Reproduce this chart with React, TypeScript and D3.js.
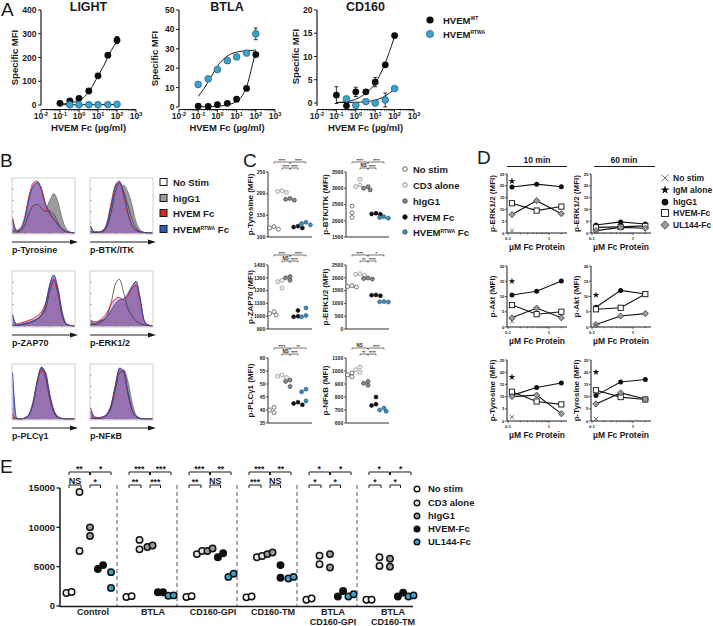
import React from 'react';
import * as d3 from 'd3';

const FF = "'Liberation Sans', Arial, Helvetica, sans-serif";
const INK = '#1a1a1a';
const CYAN = '#3aa3cf';

// ================= Panel A data =================
const aDoses = [0.1, 0.33, 1, 3.3, 10, 33, 100];
const aDecades = [-2, -1, 0, 1, 2, 3];
const lightTicks = [0, 100, 200, 300, 400];
const btlaTicks = [0, 10, 20, 30, 40, 50];
const cd160Ticks = [0, 5, 10, 15, 20];

const lightWT = [7, 17, 28, 59, 123, 210, 273];
const lightWTErr = [0, 0, 0, 0, 0, 0, 15];
const lightRTWA = [null, 1, 1, 1, 1, 2, 3];
const lightRTWAErr = [0, 0, 0, 0, 0, 0, 0];
const lightFitWTX = [0.1, 0.3, 1, 2, 5, 10, 20, 50, 100];
const lightFitWT = [4, 8, 20, 36, 78, 122, 165, 230, 268];
const lightFitRTX = [0.1, 1, 100];
const lightFitRT = [1, 1.2, 2];

const btlaWT = [0.5, 0.3, 1.2, 1.9, 4, 9.6, 27];
const btlaWTErr = [0, 0, 0, 0, 0, 0, 0];
const btlaRTWA = [11.6, 14.5, 19.3, 23.9, 25.8, 27.8, 37.7];
const btlaRTWAErr = [0, 0, 0, 0, 0, 0, 3];
const btlaFitWTX = [0.1, 1, 5, 10, 20, 40, 60, 100];
const btlaFitWT = [0.1, 0.4, 1.5, 3, 6, 13, 20, 29];
const btlaFitRTX = [0.1, 0.2, 0.5, 1, 2, 5, 10, 30, 100];
const btlaFitRT = [5.5, 9.5, 16, 21, 24.5, 27.3, 28.3, 29, 29.3];

const cd160WT = [1.7, -0.6, 2.4, 2.4, 4.5, 8.2, 14.5];
const cd160WTErr = [1.8, 0, 1, 0, 1, 0.4, 0];
const cd160RTWA = [null, 0.9, -0.5, 0.3, 0, 0.65, 3.1];
const cd160RTWAErr = [0, 0, 0, 0, 0, 1.5, 0];
const cd160FitWTX = [0.1, 0.33, 1, 3, 10, 30, 100];
const cd160FitWT = [0.1, 0.3, 0.8, 2, 4.2, 8.2, 14.3];
const cd160FitRTX = [0.1, 1, 3, 10, 30, 100];
const cd160FitRT = [0.1, 0.15, 0.25, 0.6, 1.4, 3];

// ================= Panel B data (histogram heights, [noStim, hIgG1, HVEM Fc, RTWA Fc]) =================
const bLegend = ['No Stim', 'hIgG1', 'HVEM Fc', 'HVEM RTWA Fc'];
const histTyrosine = [
  [0.06, 0.02, 0.05, 0.15, 0.38, 0.52, 0.55, 0.48, 0.42, 0.42, 0.36, 0.2, 0.07, 0.02, 0.01, 0],
  [0.05, 0.02, 0.05, 0.14, 0.33, 0.46, 0.5, 0.46, 0.47, 0.62, 0.76, 0.6, 0.28, 0.08, 0.02, 0],
  [0.3, 0.05, 0.1, 0.32, 0.72, 0.96, 1.0, 0.82, 0.52, 0.36, 0.26, 0.15, 0.07, 0.02, 0.01, 0],
  [0.25, 0.04, 0.08, 0.27, 0.66, 0.9, 0.97, 0.86, 0.56, 0.4, 0.28, 0.17, 0.08, 0.03, 0.01, 0],
];
const histBTK = [
  [0.03, 0.01, 0.01, 0.03, 0.12, 0.4, 0.78, 0.95, 0.8, 0.55, 0.28, 0.1, 0.03, 0.01, 0, 0],
  [0.03, 0.01, 0.01, 0.03, 0.1, 0.33, 0.68, 0.9, 0.92, 0.8, 0.55, 0.22, 0.06, 0.01, 0, 0],
  [0.12, 0.02, 0.02, 0.05, 0.2, 0.58, 0.92, 1.0, 0.72, 0.38, 0.14, 0.05, 0.02, 0.01, 0, 0],
  [0.14, 0.02, 0.02, 0.05, 0.18, 0.52, 0.88, 0.98, 0.78, 0.42, 0.16, 0.06, 0.02, 0.01, 0, 0],
];
const histZAP70 = [
  [0.03, 0.01, 0.02, 0.04, 0.06, 0.09, 0.13, 0.2, 0.33, 0.66, 0.88, 0.62, 0.2, 0.04, 0.01, 0],
  [0.03, 0.01, 0.02, 0.03, 0.05, 0.08, 0.12, 0.18, 0.3, 0.6, 0.86, 0.72, 0.3, 0.05, 0.01, 0],
  [0.18, 0.04, 0.06, 0.08, 0.11, 0.14, 0.2, 0.27, 0.44, 0.76, 0.9, 0.66, 0.22, 0.04, 0.01, 0],
  [0.22, 0.02, 0.03, 0.05, 0.07, 0.1, 0.14, 0.22, 0.4, 0.8, 0.98, 0.72, 0.24, 0.04, 0.01, 0],
];
const histERK = [
  [0.03, 0.03, 0.05, 0.1, 0.2, 0.45, 0.8, 0.9, 0.65, 0.35, 0.2, 0.1, 0.05, 0.02, 0.01, 0],
  [0.05, 0.04, 0.06, 0.1, 0.15, 0.25, 0.35, 0.42, 0.45, 0.55, 0.7, 0.78, 0.5, 0.1, 0.02, 0],
  [0.12, 0.08, 0.1, 0.16, 0.26, 0.42, 0.52, 0.55, 0.5, 0.56, 0.72, 0.78, 0.48, 0.1, 0.02, 0],
  [0.1, 0.05, 0.08, 0.12, 0.18, 0.3, 0.42, 0.5, 0.52, 0.62, 0.76, 0.86, 0.55, 0.1, 0.02, 0],
];
const histPLC = [
  [0.02, 0, 0, 0.02, 0.1, 0.35, 0.75, 0.98, 0.8, 0.4, 0.12, 0.03, 0.01, 0, 0, 0],
  [0.02, 0, 0, 0.02, 0.07, 0.28, 0.68, 0.96, 0.9, 0.5, 0.18, 0.05, 0.01, 0, 0, 0],
  [0.1, 0, 0, 0.02, 0.08, 0.3, 0.7, 0.93, 0.85, 0.45, 0.15, 0.04, 0.01, 0, 0, 0],
  [0.9, 0.02, 0, 0.02, 0.08, 0.3, 0.72, 1.0, 0.88, 0.45, 0.15, 0.04, 0.01, 0, 0, 0],
];
const histNFkB = [
  [0.02, 0.01, 0.01, 0.03, 0.08, 0.22, 0.55, 0.88, 0.92, 0.55, 0.2, 0.05, 0.01, 0, 0, 0],
  [0.02, 0.01, 0.01, 0.02, 0.06, 0.18, 0.45, 0.78, 0.95, 0.75, 0.35, 0.08, 0.02, 0, 0, 0],
  [0.22, 0.04, 0.03, 0.04, 0.1, 0.28, 0.65, 0.95, 0.9, 0.5, 0.18, 0.05, 0.01, 0, 0, 0],
  [0.15, 0.03, 0.02, 0.04, 0.1, 0.26, 0.62, 0.98, 0.92, 0.52, 0.18, 0.05, 0.01, 0, 0, 0],
];
const bMarkers = ['p-Tyrosine', 'p-BTK/ITK', 'p-ZAP70', 'p-ERK1/2', 'p-PLCγ1', 'p-NFκB'];

// ================= Panel C data =================
const cGroups = ['No stim', 'CD3 alone', 'hIgG1', 'HVEM Fc', 'HVEM RTWA Fc'];
const cTyrosine = [[118, 121, 124], [203, 205, 207], [185, 187, 189], [121, 123, 125], [128, 131, 134]];
const cBTK = [[2100, 2250, 2450], [3050, 3100, 3280], [2950, 3000, 3050], [2200, 2210, 2230], [2080, 2100, 2120]];
const cZAP70 = [[1010, 1020, 1035], [1220, 1270, 1280], [1280, 1300, 1310], [995, 1000, 1045], [995, 1005, 1065]];
const cERK = [[1640, 1660, 1690], [2100, 2130, 2160], [1950, 1970, 1990], [1300, 1320, 1330], [1050, 1060, 1070]];
const cPLC = [[39, 40, 41], [52.5, 53, 53.5], [49, 51, 51.5], [42, 42.5, 43], [43.5, 47, 48]];
const cNFkB = [[955, 970, 985], [990, 1010, 1030], [890, 905, 920], [735, 745, 800], [690, 700, 715]];
const cTicksTyr = [100, 150, 200, 250];
const cTicksBTK = [1500, 2000, 2500, 3000, 3500];
const cTicksZAP = [900, 1000, 1100, 1200, 1300, 1400];
const cTicksERK = [0, 500, 1000, 1500, 2000, 2500];
const cTicksPLC = [35, 40, 45, 50, 55, 60];
const cTicksNFkB = [600, 700, 800, 900, 1000, 1100];
const cSigTop = [['****', '****'], ['****', '****'], ['****', '****'], ['****', '*'], ['****', '**'], ['NS', '****']];
const cSigBot = [['****', '****'], ['NS', '****'], ['NS', '****'], ['**', '****'], ['NS', '****'], ['**', '****']];

// ================= Panel D data =================
const dDoses = [0.125, 0.5, 2];
const dLegend = ['No stim', 'IgM alone', 'hIgG1', 'HVEM-Fc', 'UL144-Fc'];
const erk10IgG1 = [19.5, 20.7, 19.6];
const erk10HVEM = [12.6, 9.5, 11.2];
const erk10UL144 = [7.8, 13.7, 8.2];
const erk60IgG1 = [3.4, 4.7, 3.8];
const erk60HVEM = [2.4, 2.6, 3.0];
const erk60UL144 = [1.0, 2.4, 2.0];
const akt10IgG1 = [10.5, 11.7, 15.1];
const akt10HVEM = [7.2, 4.2, 5.0];
const akt10UL144 = [3.0, 6.2, 3.0];
const akt60IgG1 = [6.5, 12.0, 10.8];
const akt60HVEM = [5.8, 6.3, 10.8];
const akt60UL144 = [0.8, 3.6, 4.4];
const tyr10IgG1 = [10.5, 13.7, 15.6];
const tyr10HVEM = [12.0, 8.0, 6.8];
const tyr10UL144 = [10.0, 10.6, 3.0];
const tyr60IgG1 = [10.5, 16.0, 17.0];
const tyr60HVEM = [12.6, 9.8, 8.8];
const tyr60UL144 = [7.0, 11.5, 9.0];
// order: erk10, erk60, akt10, akt60, tyr10, tyr60
const dNoStim = [1.0, 0.5, 1.8, 0.6, 1.6, 0.8];
const dIgM = [22, null, 15, 10.5, 18, 20];

// ================= Panel E data =================
const eCategories = [['Control'], ['BTLA'], ['CD160-GPI'], ['CD160-TM'], ['BTLA', 'CD160-GPI'], ['BTLA', 'CD160-TM']];
const eLegend = ['No stim', 'CD3 alone', 'hIgG1', 'HVEM-Fc', 'UL144-Fc'];
const eNoStim = [[1650, 1780], [1150, 1250], [1150, 1250], [1100, 1200], [800, 950], [800, 800]];
const eCD3 = [[14500, 7000], [8400, 7200], [6600, 7000], [6200, 6350], [6400, 5300], [6200, 5100]];
const eIgG1 = [[10000, 8900], [7500, 7700], [7000, 7300], [6600, 6800], [6600, 4900], [6000, 5000]];
const eHVEM = [[4700, 5200], [1750, 1750], [6200, 6700], [5200, 3600], [1200, 1900], [1200, 1700]];
const eUL144 = [[4300, 2300], [1300, 1350], [3700, 4100], [3500, 3700], [1200, 1500], [1200, 1350]];
const eTicks = [0, 5000, 10000, 15000];
const eSigTop = [['**', '*'], ['***', '***'], ['***', '**'], ['***', '**'], ['*', '*'], ['*', '*']];
const eSigBot = [['NS', '*'], ['**', '***'], ['**', 'NS'], ['***', 'NS'], ['*', '*'], ['*', '*']];

// ================= helpers =================
function Bracket({ x1, x2, y, label, fs, h = 2, sw = 0.8, lift = 1.5 }: any) {
  const isNS = label === 'NS';
  return (
    <g>
      <path d={`M${x1},${y + h}V${y}H${x2}V${y + h}`} fill="none" stroke={INK} strokeWidth={sw} />
      <text x={(x1 + x2) / 2} y={y - lift + (isNS ? 0 : fs * 0.2)} textAnchor="middle" fontSize={isNS ? fs : fs * 0.95} fontWeight="bold" fill={INK}>
        {label}
      </text>
    </g>
  );
}

function swarm(vals: number[], ys: any, cx: number, r: number, step: number) {
  const pts = vals.map((v) => ({ v, y: ys(v) })).sort((a, b) => a.y - b.y);
  const placed: any[] = [];
  for (const p of pts) {
    let done = false;
    for (const off of [0, -1, 1, -2, 2]) {
      const x = cx + off * step;
      if (placed.every((q) => Math.hypot(q.x - x, q.y - p.y) >= r * 1.8)) {
        placed.push({ x, y: p.y });
        done = true;
        break;
      }
    }
    if (!done) placed.push({ x: cx, y: p.y });
  }
  return placed;
}

function pairLayout(vals: number[], ys: any, cx: number, r: number) {
  const y1 = ys(vals[0]);
  const y2 = ys(vals[1]);
  if (Math.abs(y1 - y2) < r * 2) {
    return [{ x: cx - 2.6, y: y1 }, { x: cx + 2.6, y: y2 }];
  }
  return [{ x: cx, y: y1 }, { x: cx, y: y2 }];
}

// ================= Panel A =================
const aSpecs = [
  { title: 'LIGHT', axisX: 41, xEnd: 136, y0: 105, yTop: 10, yMax: 400, axisBot: 105, ticks: lightTicks, labX: 18,
    wt: lightWT, wtErr: lightWTErr, rt: lightRTWA, rtErr: lightRTWAErr, fwx: lightFitWTX, fw: lightFitWT, frx: lightFitRTX, fr: lightFitRT },
  { title: 'BTLA', axisX: 179, xEnd: 275, y0: 107, yTop: 10, yMax: 50, axisBot: 107, ticks: btlaTicks, labX: 158,
    wt: btlaWT, wtErr: btlaWTErr, rt: btlaRTWA, rtErr: btlaRTWAErr, fwx: btlaFitWTX, fw: btlaFitWT, frx: btlaFitRTX, fr: btlaFitRT },
  { title: 'CD160', axisX: 317, xEnd: 414, y0: 103, yTop: 10, yMax: 20, axisBot: 106, ticks: cd160Ticks, labX: 299,
    wt: cd160WT, wtErr: cd160WTErr, rt: cd160RTWA, rtErr: cd160RTWAErr, fwx: cd160FitWTX, fw: cd160FitWT, frx: cd160FitRTX, fr: cd160FitRT },
];

function DosePlot({ s }: any) {
  const xs = d3.scaleLog().domain([0.01, 1000]).range([s.axisX, s.xEnd]);
  const ys = d3.scaleLinear().domain([0, s.yMax]).range([s.y0, s.yTop]);
  const line = d3.line<any>().x((d) => xs(d[0])).y((d) => ys(d[1])).curve(d3.curveMonotoneX);
  const xAxisY = 109.5;
  const minors: number[] = [];
  for (let e = -2; e < 3; e++) for (let m = 2; m < 10; m++) minors.push(m * Math.pow(10, e));
  const err = (vals: any[], errs: number[], color: string) =>
    vals.map((v, i) =>
      v != null && errs[i] > 0 ? (
        <g key={'e' + color + i} stroke={color} strokeWidth={0.9}>
          <line x1={xs(aDoses[i])} x2={xs(aDoses[i])} y1={ys(v - errs[i])} y2={ys(v + errs[i])} />
          <line x1={xs(aDoses[i]) - 2} x2={xs(aDoses[i]) + 2} y1={ys(v + errs[i])} y2={ys(v + errs[i])} />
          <line x1={xs(aDoses[i]) - 2} x2={xs(aDoses[i]) + 2} y1={ys(v - errs[i])} y2={ys(v - errs[i])} />
        </g>
      ) : null
    );
  return (
    <g>
      <text x={(s.axisX + s.xEnd) / 2} y={11} textAnchor="middle" fontSize={12.5} fontWeight="bold" fill={INK}>{s.title}</text>
      <line x1={s.axisX} x2={s.axisX} y1={s.yTop} y2={s.axisBot} stroke={INK} strokeWidth={1.2} />
      {s.ticks.map((t: number) => (
        <g key={t}>
          <line x1={s.axisX - 3} x2={s.axisX} y1={ys(t)} y2={ys(t)} stroke={INK} strokeWidth={1} />
          <text x={s.axisX - 4.5} y={ys(t) + 3} textAnchor="end" fontSize={8.5} fontWeight="bold" fill={INK}>{t}</text>
        </g>
      ))}
      <text transform={`translate(${s.labX},${(s.yTop + s.y0) / 2}) rotate(-90)`} textAnchor="middle" fontSize={9.5} fontWeight="bold" fill={INK}>Specific MFI</text>
      <line x1={s.axisX} x2={s.xEnd} y1={xAxisY} y2={xAxisY} stroke={INK} strokeWidth={1.2} />
      {minors.map((m, i) => (
        <line key={i} x1={xs(m)} x2={xs(m)} y1={xAxisY} y2={xAxisY + 1.6} stroke={INK} strokeWidth={0.6} />
      ))}
      {aDecades.map((e) => (
        <g key={e}>
          <line x1={xs(Math.pow(10, e))} x2={xs(Math.pow(10, e))} y1={xAxisY} y2={xAxisY + 3} stroke={INK} strokeWidth={1} />
          <text x={xs(Math.pow(10, e))} y={119} textAnchor="middle" fontSize={8.5} fontWeight="bold" fill={INK}>
            10<tspan dy={-3.5} fontSize={5.5}>{e}</tspan>
          </text>
        </g>
      ))}
      <text x={(s.axisX + s.xEnd) / 2} y={131} textAnchor="middle" fontSize={9.5} fontWeight="bold" fill={INK}>HVEM Fc (µg/ml)</text>
      <path d={line(s.fwx.map((x: number, i: number) => [x, s.fw[i]])) || ''} fill="none" stroke={INK} strokeWidth={1} />
      <path d={line(s.frx.map((x: number, i: number) => [x, s.fr[i]])) || ''} fill="none" stroke={INK} strokeWidth={1} />
      {err(s.wt, s.wtErr, INK)}
      {err(s.rt, s.rtErr, INK)}
      {s.wt.map((v: number, i: number) => (
        <circle key={'w' + i} cx={xs(aDoses[i])} cy={ys(v)} r={3.4} fill="#0d0d0d" />
      ))}
      {s.rt.map((v: any, i: number) =>
        v == null ? null : <circle key={'r' + i} cx={xs(aDoses[i])} cy={ys(v)} r={3.4} fill={CYAN} stroke="#1f4b5e" strokeWidth={0.6} />
      )}
    </g>
  );
}

function PanelA() {
  return (
    <g>
      <text x={1} y={16} fontSize={19} fill={INK}>A</text>
      {aSpecs.map((s) => <DosePlot key={s.title} s={s} />)}
      <circle cx={430} cy={20} r={3.6} fill="#0d0d0d" />
      <text x={443} y={23.5} fontSize={9.5} fontWeight="bold" fill={INK}>HVEM<tspan dy={-3.5} fontSize={5}>WT</tspan></text>
      <circle cx={430} cy={34} r={3.6} fill={CYAN} stroke="#1f4b5e" strokeWidth={0.6} />
      <text x={443} y={37.5} fontSize={9.5} fontWeight="bold" fill={INK}>HVEM<tspan dy={-3.5} fontSize={5}>RTWA</tspan></text>
    </g>
  );
}

// ================= Panel B =================
const bHists = [histTyrosine, histBTK, histZAP70, histERK, histPLC, histNFkB];
const bColsX = [12, 90];
const bRowsY = [178, 271, 364];

function Histo({ hist, name, bx, by }: any) {
  const bw = 63;
  const bh = 56;
  const n = hist[0].length;
  const xs = d3.scaleLinear().domain([0, n - 1]).range([bx + 0.5, bx + bw - 0.5]);
  const ys = d3.scaleLinear().domain([0, 1]).range([by + bh - 1, by + 3]);
  const area = d3.area<number>().x((_, i) => xs(i)).y0(by + bh - 1).y1((d) => ys(d)).curve(d3.curveMonotoneX);
  const ln = d3.line<number>().x((_, i) => xs(i)).y((d) => ys(d)).curve(d3.curveMonotoneX);
  const clipId = 'clip' + bx + '_' + by;
  return (
    <g>
      <defs>
        <clipPath id={clipId}><rect x={bx} y={by} width={bw} height={bh} /></clipPath>
      </defs>
      <g clipPath={`url(#${clipId})`}>
        <path d={area(hist[1]) || ''} fill="#9c9c9c" stroke="#555" strokeWidth={0.6} />
        <path d={area(hist[2]) || ''} fill="#dcaad2" fillOpacity={0.75} />
        <path d={area(hist[3]) || ''} fill="#8462aa" fillOpacity={0.75} />
        <path d={ln(hist[0]) || ''} fill="none" stroke="#2a2a2a" strokeWidth={0.7} />
        <path d={ln(hist[2]) || ''} fill="none" stroke="#e0262b" strokeWidth={1} />
        <path d={ln(hist[3]) || ''} fill="none" stroke="#2a48b0" strokeWidth={1} />
      </g>
      <rect x={bx} y={by} width={bw} height={bh} fill="none" stroke="#c4c4c4" strokeWidth={0.8} />
      {[0.2, 0.4, 0.6, 0.8].map((f) => (
        <line key={f} x1={bx + bw * f} x2={bx + bw * f} y1={by + bh} y2={by + bh - 2} stroke="#777" strokeWidth={0.5} />
      ))}
      {[0.2, 0.4, 0.6, 0.8].map((f) => (
        <line key={'l' + f} x1={bx} x2={bx + 2} y1={by + bh * f} y2={by + bh * f} stroke="#777" strokeWidth={0.5} />
      ))}
      <line x1={bx} x2={bx + 60} y1={by + bh + 8} y2={by + bh + 8} stroke={INK} strokeWidth={1} />
      <path d={`M${bx + 66},${by + bh + 8}L${bx + 58},${by + bh + 5.5}L${bx + 58},${by + bh + 10.5}Z`} fill={INK} />
      <text x={bx} y={by + bh + 18.5} fontSize={9} fontWeight="bold" fill={INK}>{name}</text>
    </g>
  );
}

function PanelB() {
  const fills = ['#ffffff', '#9c9c9c', '#e0262b', '#2d5fb8'];
  const ly = [182, 198, 213, 229];
  return (
    <g>
      <text x={0} y={167} fontSize={19} fill={INK}>B</text>
      {bHists.map((h, i) => (
        <Histo key={i} hist={h} name={bMarkers[i]} bx={bColsX[i % 2]} by={bRowsY[Math.floor(i / 2)]} />
      ))}
      {bLegend.map((l, i) => (
        <g key={l}>
          <rect x={160} y={ly[i] - 3.5} width={7} height={7} fill={fills[i]} stroke={INK} strokeWidth={1} />
          {i === 3 ? (
            <text x={173} y={ly[i] + 3.5} fontSize={9.5} fontWeight="bold" fill={INK}>
              HVEM<tspan dy={-3} fontSize={5}>RTWA</tspan><tspan dy={3}> Fc</tspan>
            </text>
          ) : (
            <text x={173} y={ly[i] + 3.5} fontSize={9.5} fontWeight="bold" fill={INK}>{l}</text>
          )}
        </g>
      ))}
    </g>
  );
}

// ================= Panel C =================
const cData = [cTyrosine, cBTK, cZAP70, cERK, cPLC, cNFkB];
const cTicks = [cTicksTyr, cTicksBTK, cTicksZAP, cTicksERK, cTicksPLC, cTicksNFkB];
const cLabels = ['p-Tyrosine (MFI)', 'p-BTK/ITK (MFI)', 'p-ZAP70 (MFI)', 'p-ERK1/2 (MFI)', 'p-PLCγ1 (MFI)', 'p-NFκB (MFI)'];
const cAxisX = [268, 346];
const cXEnd = [312, 389];
const cLabX = [253, 328];
const cRowTop = [172, 265, 358];
const cRowBot = [237, 329, 423];
const cFill = ['#ffffff', '#f0f0f0', '#8a8a8a', '#111111', '#3d8fbf'];
const cStroke = ['#222', '#777', '#333', '#111', '#1e4a63'];

function DotPlotC({ idx }: any) {
  const col = idx % 2;
  const row = Math.floor(idx / 2);
  const ticks = cTicks[idx];
  const ys = d3.scaleLinear().domain([ticks[0], ticks[ticks.length - 1]]).range([cRowBot[row], cRowTop[row]]);
  const ax = cAxisX[col];
  const gx = (k: number) => ax + 6 + 8 * k;
  const bt = cRowTop[row] - 10;
  const bb = cRowTop[row] - 4;
  return (
    <g>
      <line x1={ax} x2={ax} y1={cRowTop[row]} y2={cRowBot[row]} stroke={INK} strokeWidth={0.9} />
      <line x1={ax} x2={cXEnd[col]} y1={cRowBot[row]} y2={cRowBot[row]} stroke={INK} strokeWidth={0.9} />
      {ticks.map((t) => (
        <g key={t}>
          <line x1={ax - 2} x2={ax} y1={ys(t)} y2={ys(t)} stroke={INK} strokeWidth={0.7} />
          <text x={ax - 2.8} y={ys(t) + 1.8} textAnchor="end" fontSize={5} fontWeight="bold" fill={INK}>{t}</text>
        </g>
      ))}
      <text transform={`translate(${cLabX[col]},${(cRowTop[row] + cRowBot[row]) / 2}) rotate(-90)`} textAnchor="middle" fontSize={8} fontWeight="bold" fill={INK}>
        {cLabels[idx]}
      </text>
      {cData[idx].map((vals, k) =>
        swarm(vals, ys, gx(k), 2, 2.2).map((p, j) => (
          <circle key={k + '_' + j} cx={p.x} cy={p.y} r={2} fill={cFill[k]} stroke={cStroke[k]} strokeWidth={0.6} />
        ))
      )}
      <Bracket x1={gx(0)} x2={gx(2) - 0.5} y={bt} label={cSigTop[idx][0]} fs={4.5} h={1.5} sw={0.6} lift={0.8} />
      <Bracket x1={gx(2) + 0.5} x2={gx(4)} y={bt} label={cSigTop[idx][1]} fs={4.5} h={1.5} sw={0.6} lift={0.8} />
      <Bracket x1={gx(1)} x2={gx(2) - 0.5} y={bb} label={cSigBot[idx][0]} fs={4.5} h={1.5} sw={0.6} lift={0.8} />
      <Bracket x1={gx(2) + 0.5} x2={gx(3)} y={bb} label={cSigBot[idx][1]} fs={4.5} h={1.5} sw={0.6} lift={0.8} />
    </g>
  );
}

function PanelC() {
  const ly = [169, 185, 201, 217, 232];
  return (
    <g>
      <text x={243} y={167} fontSize={19} fill={INK}>C</text>
      {cData.map((_, i) => <DotPlotC key={i} idx={i} />)}
      {cGroups.map((g, i) => (
        <g key={g}>
          <circle cx={405} cy={ly[i]} r={2.3} fill={cFill[i]} stroke={cStroke[i]} strokeWidth={0.7} />
          {i === 4 ? (
            <text x={413} y={ly[i] + 3.5} fontSize={9.5} fontWeight="bold" fill={INK}>
              HVEM<tspan dy={-3} fontSize={5}>RTWA</tspan><tspan dy={3}> Fc</tspan>
            </text>
          ) : (
            <text x={413} y={ly[i] + 3.5} fontSize={9.5} fontWeight="bold" fill={INK}>{g}</text>
          )}
        </g>
      ))}
    </g>
  );
}

// ================= Panel D =================
const dSeries = [
  [erk10IgG1, erk10HVEM, erk10UL144],
  [erk60IgG1, erk60HVEM, erk60UL144],
  [akt10IgG1, akt10HVEM, akt10UL144],
  [akt60IgG1, akt60HVEM, akt60UL144],
  [tyr10IgG1, tyr10HVEM, tyr10UL144],
  [tyr60IgG1, tyr60HVEM, tyr60UL144],
];
const dAxisX = [507, 591];
const dLabX = [495, 579];
const dRowY0 = [233, 327, 421];
const dRowTop = [174, 266, 360];
const dRowMax = [25, 20, 25];
const dRowLabels = ['p-ERK1/2 (MFI)', 'p-Akt (MFI)', 'p-Tyrosine (MFI)'];

function Marker({ kind, x, y, s = 1 }: any) {
  if (kind === 0) {
    const a = 2.6 * s;
    return (
      <g stroke="#555" strokeWidth={0.8}>
        <line x1={x - a} x2={x + a} y1={y - a} y2={y + a} />
        <line x1={x - a} x2={x + a} y1={y + a} y2={y - a} />
      </g>
    );
  }
  if (kind === 1) {
    const p = d3.symbol().type(d3.symbolStar).size(14 * s * s)();
    return <path d={p || ''} transform={`translate(${x},${y})`} fill="#111" />;
  }
  if (kind === 2) return <circle cx={x} cy={y} r={2.5 * s} fill="#111" />;
  if (kind === 3) return <rect x={x - 2.6 * s} y={y - 2.6 * s} width={5.2 * s} height={5.2 * s} fill="#fff" stroke="#111" strokeWidth={0.9} />;
  const a = 2.2 * s;
  return <rect x={x - a} y={y - a} width={2 * a} height={2 * a} transform={`rotate(45 ${x} ${y})`} fill="#9a9a9a" stroke="#333" strokeWidth={0.7} />;
}

function DPlot({ idx }: any) {
  const col = idx % 2;
  const row = Math.floor(idx / 2);
  const ax = dAxisX[col];
  const xs = d3.scaleLog().domain([0.1, 2.75]).range([ax + 1, ax + 60]);
  const ys = d3.scaleLinear().domain([0, dRowMax[row]]).range([dRowY0[row], dRowTop[row]]);
  const ticks = d3.range(0, dRowMax[row] + 1, 5);
  const line = d3.line<number>().x((_, i) => xs(dDoses[i])).y((d) => ys(d));
  const minors = [0.2, 0.3, 0.4, 0.5, 0.6, 0.7, 0.8, 0.9, 2];
  const y0 = dRowY0[row];
  return (
    <g>
      <line x1={ax} x2={ax} y1={dRowTop[row]} y2={y0} stroke={INK} strokeWidth={1} />
      <line x1={ax} x2={ax + 60} y1={y0} y2={y0} stroke={INK} strokeWidth={1} />
      {ticks.map((t) => (
        <g key={t}>
          <line x1={ax - 2} x2={ax} y1={ys(t)} y2={ys(t)} stroke={INK} strokeWidth={0.7} />
          <text x={ax - 2.5} y={ys(t) + 1.6} textAnchor="end" fontSize={4.3} fontWeight="bold" fill={INK}>{t}</text>
        </g>
      ))}
      {[0.1, 1].map((t) => (
        <g key={t}>
          <line x1={xs(t)} x2={xs(t)} y1={y0} y2={y0 + 2.2} stroke={INK} strokeWidth={0.7} />
          <text x={xs(t)} y={y0 + 6.5} textAnchor="middle" fontSize={4.3} fontWeight="bold" fill={INK}>{t}</text>
        </g>
      ))}
      {minors.map((t) => (
        <line key={t} x1={xs(t)} x2={xs(t)} y1={y0} y2={y0 + 1.3} stroke={INK} strokeWidth={0.6} />
      ))}
      <text x={ax + 30} y={y0 + 17} textAnchor="middle" fontSize={8.5} fontWeight="bold" fill={INK}>µM Fc Protein</text>
      <text transform={`translate(${dLabX[col]},${(dRowTop[row] + y0) / 2}) rotate(-90)`} textAnchor="middle" fontSize={8} fontWeight="bold" fill={INK}>
        {dRowLabels[row]}
      </text>
      {dSeries[idx].map((vals, k) => (
        <path key={'l' + k} d={line(vals) || ''} fill="none" stroke="#111" strokeWidth={1.1} />
      ))}
      {dSeries[idx].map((vals, k) =>
        vals.map((v, i) => <Marker key={k + '_' + i} kind={k + 2} x={xs(dDoses[i])} y={ys(v)} />)
      )}
      <Marker kind={0} x={xs(dDoses[0])} y={ys(dNoStim[idx])} s={0.8} />
      {dIgM[idx] != null ? <Marker kind={1} x={xs(dDoses[0])} y={ys(dIgM[idx] as number)} /> : null}
    </g>
  );
}

function PanelD() {
  const ly = [178, 190, 202, 213, 225];
  return (
    <g>
      <text x={477} y={164} fontSize={19} fill={INK}>D</text>
      <text x={537} y={163} textAnchor="middle" fontSize={8.5} fontWeight="bold" fill={INK}>10 min</text>
      <line x1={507} x2={567} y1={166.5} y2={166.5} stroke={INK} strokeWidth={1} />
      <text x={624} y={163} textAnchor="middle" fontSize={8.5} fontWeight="bold" fill={INK}>60 min</text>
      <line x1={594} x2={655} y1={166.5} y2={166.5} stroke={INK} strokeWidth={1} />
      {dSeries.map((_, i) => <DPlot key={i} idx={i} />)}
      {dLegend.map((l, i) => (
        <g key={l}>
          <Marker kind={i} x={665} y={ly[i]} s={1.35} />
          <text x={673} y={ly[i] + 3.2} fontSize={8.5} fontWeight="bold" fill={INK}>{l}</text>
        </g>
      ))}
    </g>
  );
}

// ================= Panel E =================
const eGroupsData = [eNoStim, eCD3, eIgG1, eHVEM, eUL144];
const eFill = ['#ffffff', '#e4e4e4', '#9a9a9a', '#0d0d0d', CYAN];

function PanelE() {
  const ys = d3.scaleLinear().domain([0, 15000]).range([606, 488]);
  const sc = (g: number, k: number) => 69 + 60 * g + 10.5 * k;
  const r = 3.2;
  const ly = [489, 503, 516, 529, 542];
  return (
    <g>
      <text x={0} y={473} fontSize={19} fill={INK}>E</text>
      <line x1={60} x2={60} y1={488} y2={607} stroke={INK} strokeWidth={1.5} />
      <line x1={60} x2={413} y1={606.5} y2={606.5} stroke={INK} strokeWidth={1.5} />
      {eTicks.map((t) => (
        <g key={t}>
          <line x1={56.5} x2={60} y1={ys(t)} y2={ys(t)} stroke={INK} strokeWidth={1.3} />
          <text x={55} y={ys(t) + 3.3} textAnchor="end" fontSize={9.5} fontWeight="bold" fill={INK}>{t}</text>
        </g>
      ))}
      {[1, 2, 3, 4, 5].map((g) => (
        <line key={g} x1={57 + 60 * g} x2={57 + 60 * g} y1={485} y2={606} stroke="#555" strokeWidth={1} strokeDasharray="4,3" />
      ))}
      {eCategories.map((c, g) => (
        <text key={g} x={sc(g, 2) + 3} y={615} textAnchor="middle" fontSize={9} fontWeight="bold" fill={INK}>
          {c.map((ln, j) => (
            <tspan key={j} x={sc(g, 2) + 3} dy={j === 0 ? 0 : 9.5}>{ln}</tspan>
          ))}
        </text>
      ))}
      {eCategories.map((_, g) => (
        <g key={'b' + g}>
          <Bracket x1={sc(g, 0)} x2={sc(g, 2) - 0.5} y={472} label={eSigTop[g][0]} fs={9} h={3} sw={1} lift={1.5} />
          <Bracket x1={sc(g, 2) + 0.5} x2={sc(g, 4)} y={472} label={eSigTop[g][1]} fs={9} h={3} sw={1} lift={1.5} />
          <Bracket x1={sc(g, 0)} x2={sc(g, 1) + 1.5} y={485} label={eSigBot[g][0]} fs={9} h={3} sw={1} lift={1.5} />
          <Bracket x1={sc(g, 2)} x2={sc(g, 3)} y={485} label={eSigBot[g][1]} fs={9} h={3} sw={1} lift={1.5} />
        </g>
      ))}
      {eGroupsData.map((arr, k) =>
        arr.map((vals, g) =>
          pairLayout(vals, ys, sc(g, k), r).map((p, j) => (
            <circle key={k + '_' + g + '_' + j} cx={p.x} cy={p.y} r={r} fill={eFill[k]} stroke="#111" strokeWidth={1.5} />
          ))
        )
      )}
      {eLegend.map((l, i) => (
        <g key={l}>
          <circle cx={417} cy={ly[i]} r={2.8} fill={eFill[i]} stroke="#111" strokeWidth={1.4} />
          <text x={428} y={ly[i] + 3.3} fontSize={9.5} fontWeight="bold" fill={INK}>{l}</text>
        </g>
      ))}
    </g>
  );
}

export default function App() {
  return (
    <svg width={713} height={626} viewBox="0 0 713 626" style={{ position: 'absolute', left: 0, top: 0, background: '#fff' }} fontFamily={FF}>
      <rect x={0} y={0} width={713} height={626} fill="#fff" />
      <PanelA />
      <PanelB />
      <PanelC />
      <PanelD />
      <PanelE />
    </svg>
  );
}
